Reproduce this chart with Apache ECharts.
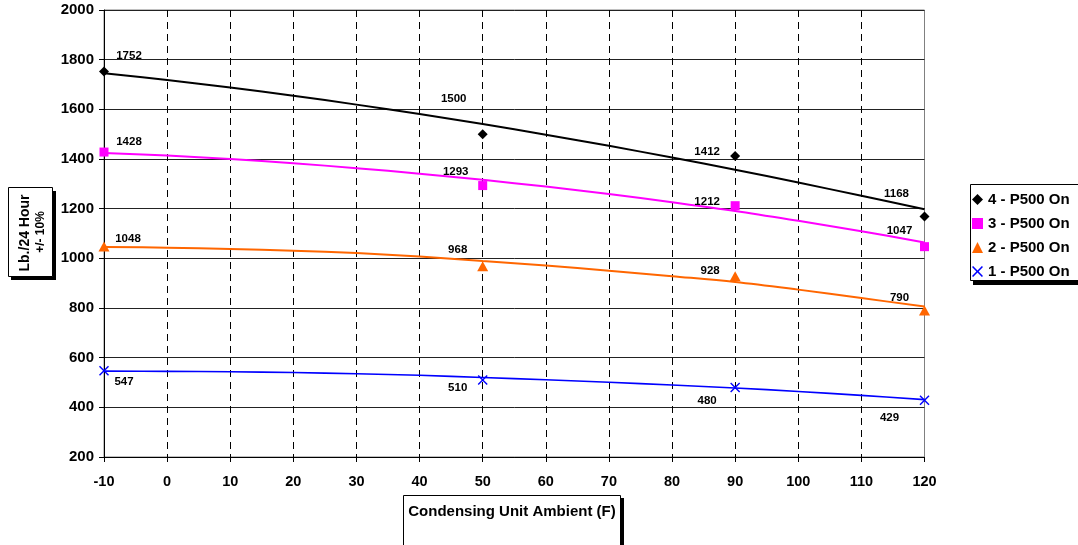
<!DOCTYPE html>
<html>
<head>
<meta charset="utf-8">
<script src="https://cdn.jsdelivr.net/npm/echarts@6/dist/echarts.min.js"></script>
<style>
html,body{margin:0;padding:0;background:#fff;}
#chart{width:1078px;height:545px;}
</style>
</head>
<body>
<div id="chart"></div>
<script>
// ---- data ----
const xTicks = [-10, 0, 10, 20, 30, 40, 50, 60, 70, 80, 90, 100, 110, 120];
const measuredX = [-10, 50, 90, 120];
const seriesNames = ['4 - P500 On', '3 - P500 On', '2 - P500 On', '1 - P500 On'];
const p500_4 = [1752, 1500, 1412, 1168];
const p500_3 = [1428, 1293, 1212, 1047];
const p500_2 = [1048, 968, 928, 790];
const p500_1 = [547, 510, 480, 429];
// trendlines at each x tick
const trend_4 = [1745, 1718, 1688, 1655, 1619, 1581, 1541, 1498, 1453, 1406, 1357, 1305, 1252, 1198];
const trend_3 = [1424, 1414, 1400, 1383, 1363, 1341, 1316, 1289, 1259, 1226, 1191, 1151, 1109, 1064];
const trend_2 = [1046, 1043, 1038, 1031, 1021, 1007, 989, 971, 950, 928, 905, 874, 840, 806];
const trend_1 = [546, 545, 543, 540, 535, 529, 520, 511, 501, 490, 478, 464, 448, 431];

// ---- styles ----
const FONT = '"Liberation Sans", Arial, Helvetica, sans-serif';
const colors = ['#000000', '#FF00FF', '#FF6600', '#0000FF'];
const XPATH = 'path://M0,1 L1,0 L5,4 L9,0 L10,1 L6,5 L10,9 L9,10 L5,6 L1,10 L0,9 L4,5 Z';
const symbols = ['diamond', 'rect', 'triangle', XPATH];
const symbolSizes = [10, 9, [11, 10], 10];
const lineWidths = [2, 2, 2, 1.6];
const labelOffsets = [
  [[25, -16], [-29, -35], [-28, -4], [-28, -23]],
  [[25, -10], [-27, -14], [-28, -4], [-25, -16]],
  [[24, -8], [-25, -16], [-25, -5], [-25, -13]],
  [[20, 11], [-25, 8], [-28, 13], [-35, 18]]
];
const pointSets = [p500_4, p500_3, p500_2, p500_1];
const trendSets = [trend_4, trend_3, trend_2, trend_1];

const series = [];
trendSets.forEach((t, i) => {
  series.push({
    name: 'trend' + i,
    type: 'line',
    smooth: 0.35,
    showSymbol: false,
    silent: true,
    z: 2,
    lineStyle: { color: colors[i], width: lineWidths[i] },
    itemStyle: { color: colors[i] },
    data: xTicks.map((x, k) => [x, t[k]])
  });
});
pointSets.forEach((p, i) => {
  series.push({
    name: seriesNames[i],
    type: 'scatter',
    symbol: symbols[i],
    symbolSize: symbolSizes[i],
    z: 3,
    itemStyle: { color: colors[i], opacity: 1 },
    label: {
      show: true,
      position: 'inside',
      color: '#000',
      fontSize: 11.5,
      fontWeight: 'bold',
      fontFamily: FONT,
      formatter: (prm) => String(prm.value[1])
    },
    data: measuredX.map((x, k) => ({ value: [x, p[k]], label: { offset: labelOffsets[i][k] } }))
  });
});

const chart = echarts.init(document.getElementById('chart'), null, { renderer: 'canvas' });
chart.setOption({
  animation: false,
  backgroundColor: '#ffffff',
  textStyle: { fontFamily: FONT },
  grid: { left: 104, right: 153.5, top: 10, bottom: 88, show: true, borderColor: '#808080', borderWidth: 1 },
  xAxis: {
    type: 'value', min: -10, max: 120, interval: 10,
    axisLine: { onZero: false, lineStyle: { color: '#000', width: 1 } },
    axisTick: { show: true, length: 5, lineStyle: { color: '#000' } },
    axisLabel: { color: '#000', fontSize: 14.5, fontWeight: 'bold', fontFamily: FONT, margin: 17,
      formatter: (v) => String(v) },
    splitLine: { show: true, showMinLine: false, showMaxLine: false, lineStyle: { color: '#000', type: [7, 5], width: 1 } }
  },
  yAxis: {
    type: 'value', min: 200, max: 2000, interval: 200,
    axisLine: { show: true, onZero: false, lineStyle: { color: '#000', width: 1 } },
    axisTick: { show: true, length: 5, lineStyle: { color: '#000' } },
    axisLabel: { color: '#000', fontSize: 15, fontWeight: 'bold', fontFamily: FONT, margin: 10,
      formatter: (v) => String(v) },
    splitLine: { show: true, lineStyle: { color: '#222', width: 1 } }
  },
  legend: {
    data: seriesNames,
    orient: 'vertical',
    left: 972, top: 191,
    padding: 0,
    itemGap: 7,
    itemWidth: 11, itemHeight: 11,
    selectedMode: false,
    z: 10,
    textStyle: { color: '#000', fontSize: 15, fontWeight: 'bold', fontFamily: FONT, lineHeight: 17 }
  },
  graphic: [
    // legend box
    { type: 'rect', z: 0, shape: { x: 973, y: 187, width: 115, height: 98 }, style: { fill: '#000' } },
    { type: 'rect', z: 0, shape: { x: 970.5, y: 184.5, width: 115, height: 96 }, style: { fill: '#fff', stroke: '#000', lineWidth: 1 } },
    // y axis title box
    { type: 'rect', z: 0, shape: { x: 11, y: 191, width: 45, height: 89 }, style: { fill: '#000' } },
    { type: 'rect', z: 0, shape: { x: 8.5, y: 187.5, width: 44, height: 89 }, style: { fill: '#fff', stroke: '#000', lineWidth: 1 } },
    { type: 'text', z: 1, x: 25, y: 233, rotation: Math.PI / 2,
      style: { text: 'Lb./24 Hour', fill: '#000', font: 'bold 14px ' + FONT, align: 'center', verticalAlign: 'middle' } },
    { type: 'text', z: 1, x: 41, y: 232, rotation: Math.PI / 2,
      style: { text: '+/- 10%', fill: '#000', font: 'bold 12px ' + FONT, align: 'center', verticalAlign: 'middle' } },
    // x axis title box
    { type: 'rect', z: 0, shape: { x: 406, y: 498, width: 218, height: 60 }, style: { fill: '#000' } },
    { type: 'rect', z: 0, shape: { x: 403.5, y: 495.5, width: 217, height: 60 }, style: { fill: '#fff', stroke: '#000', lineWidth: 1 } },
    { type: 'text', z: 1, x: 512, y: 512,
      style: { text: 'Condensing Unit Ambient (F)', fill: '#000', font: 'bold 15px ' + FONT, align: 'center', verticalAlign: 'middle' } }
  ],
  series: series
});
</script>
</body>
</html>
